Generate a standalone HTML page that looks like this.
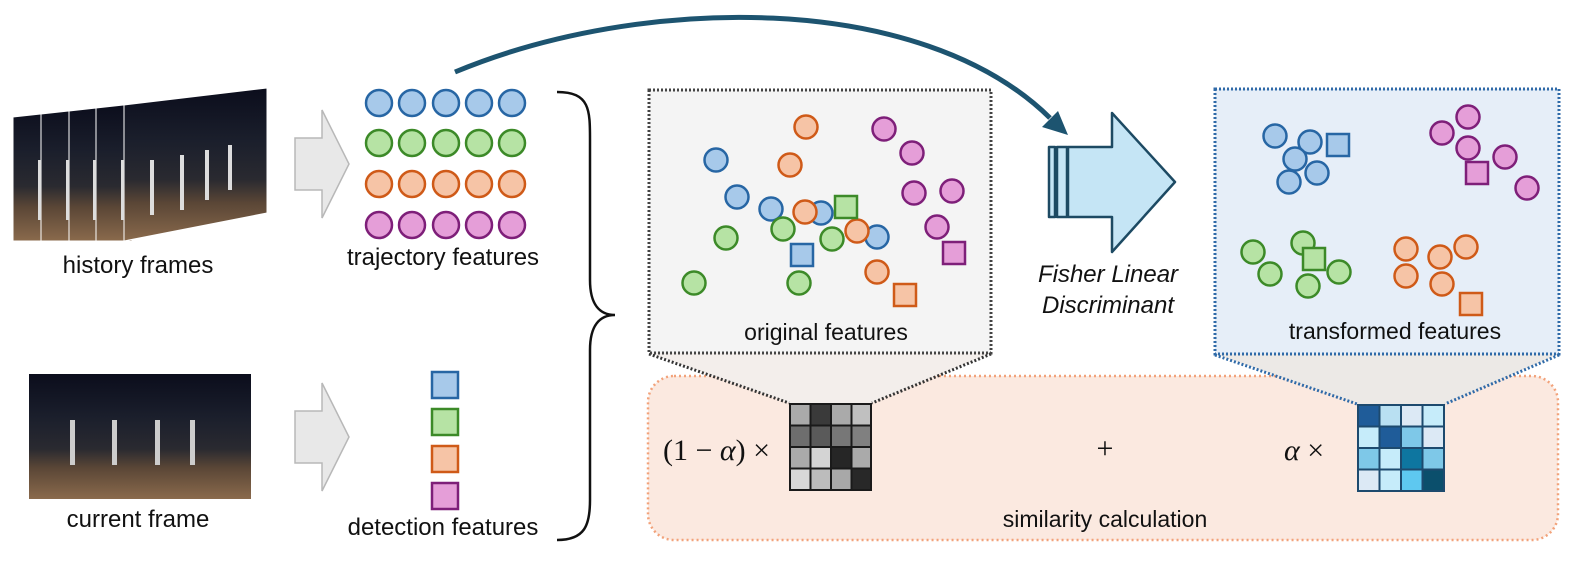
<!DOCTYPE html>
<html><head><meta charset="utf-8"><style>
html,body{margin:0;padding:0;background:#fff;}
svg{display:block;}
text{font-family:"Liberation Sans","DejaVu Sans",sans-serif;fill:#111;}
</style></head><body>
<svg width="1578" height="567" viewBox="0 0 1578 567" xmlns="http://www.w3.org/2000/svg">
<defs>
<linearGradient id="fr" x1="0" y1="0" x2="0" y2="1">
<stop offset="0" stop-color="#0b0d1c"/><stop offset="0.35" stop-color="#1b1f2c"/><stop offset="0.6" stop-color="#2a2a30"/><stop offset="0.75" stop-color="#5a4636"/><stop offset="1" stop-color="#8a6a4c"/>
</linearGradient>
</defs>
<!-- history frames -->
<g stroke="#fff" stroke-width="1">
<polygon points="13,117 132,104 132,241 13,241" fill="url(#fr)"/>
<polygon points="41,114 132,104 132,241 41,241" fill="url(#fr)"/>
<polygon points="69,111 132,104 132,241 69,241" fill="url(#fr)"/>
<polygon points="96,108 132,104 132,241 96,241" fill="url(#fr)"/>
<polygon points="124,105 267,88 267,213 124,241" fill="url(#fr)"/>
</g>
<g fill="#ddd"><rect x="38" y="160" width="3" height="60"/><rect x="66" y="160" width="3" height="60"/><rect x="93" y="160" width="3" height="60"/><rect x="121" y="160" width="3" height="60"/><rect x="150" y="160" width="4" height="55"/><rect x="180" y="155" width="4" height="55"/><rect x="205" y="150" width="4" height="50"/><rect x="228" y="145" width="4" height="45"/></g>
<text x="138" y="273" font-size="24" text-anchor="middle">history frames</text>
<!-- current frame -->
<rect x="29" y="374" width="222" height="125" fill="url(#fr)"/>
<g fill="#ccc"><rect x="70" y="420" width="5" height="45"/><rect x="112" y="420" width="5" height="45"/><rect x="155" y="420" width="5" height="45"/><rect x="190" y="420" width="5" height="45"/></g>
<text x="138" y="527" font-size="24" text-anchor="middle">current frame</text>
<!-- gray arrows -->
<polygon points="295,138 322,138 322,110 349,164 322,218 322,190 295,190" fill="#e8e8e8" stroke="#b8b8b8" stroke-width="1.5"/>
<polygon points="295,411 322,411 322,383 349,437 322,491 322,463 295,463" fill="#e8e8e8" stroke="#b8b8b8" stroke-width="1.5"/>
<!-- trajectory features -->
<g stroke-width="2.5">
<g fill="#a7c9ea" stroke="#2766a4"><circle cx="379" cy="103" r="13"/><circle cx="412" cy="103" r="13"/><circle cx="446" cy="103" r="13"/><circle cx="479" cy="103" r="13"/><circle cx="512" cy="103" r="13"/></g>
<g fill="#b6e3a4" stroke="#3c8a28"><circle cx="379" cy="143" r="13"/><circle cx="412" cy="143" r="13"/><circle cx="446" cy="143" r="13"/><circle cx="479" cy="143" r="13"/><circle cx="512" cy="143" r="13"/></g>
<g fill="#f6c4a6" stroke="#cf5a18"><circle cx="379" cy="184" r="13"/><circle cx="412" cy="184" r="13"/><circle cx="446" cy="184" r="13"/><circle cx="479" cy="184" r="13"/><circle cx="512" cy="184" r="13"/></g>
<g fill="#e59ed8" stroke="#7e1f79"><circle cx="379" cy="225" r="13"/><circle cx="412" cy="225" r="13"/><circle cx="446" cy="225" r="13"/><circle cx="479" cy="225" r="13"/><circle cx="512" cy="225" r="13"/></g>
<rect x="432" y="372" width="26" height="26" fill="#a7c9ea" stroke="#2766a4"/>
<rect x="432" y="409" width="26" height="26" fill="#b6e3a4" stroke="#3c8a28"/>
<rect x="432" y="446" width="26" height="26" fill="#f6c4a6" stroke="#cf5a18"/>
<rect x="432" y="483" width="26" height="26" fill="#e59ed8" stroke="#7e1f79"/>
</g>
<text x="443" y="265" font-size="24" text-anchor="middle">trajectory features</text>
<text x="443" y="535" font-size="24" text-anchor="middle">detection features</text>
<!-- brace -->
<path d="M557,92 C590,92 590,110 590,140 L590,280 C590,305 600,315 615,315 C600,315 590,325 590,350 L590,500 C590,525 585,540 557,540" fill="none" stroke="#111" stroke-width="2.5"/>
<!-- similarity box -->
<rect x="648" y="376" width="910" height="164" rx="26" fill="#fbe9e0" stroke="#f2a27a" stroke-width="2.5" stroke-dasharray="2 3"/>
<!-- connectors -->
<polygon points="649,353 991,353 872,403 789,403" fill="#f3eeeb"/>
<line x1="649" y1="354" x2="789" y2="403" stroke="#333" stroke-width="3" stroke-dasharray="2 2"/>
<line x1="991" y1="354" x2="872" y2="403" stroke="#333" stroke-width="3" stroke-dasharray="2 2"/>
<polygon points="1215,354 1559,354 1445,404 1357,404" fill="#ece9e6"/>
<line x1="1215" y1="355" x2="1357" y2="404" stroke="#2f6aa8" stroke-width="3" stroke-dasharray="2 2"/>
<line x1="1559" y1="355" x2="1445" y2="404" stroke="#2f6aa8" stroke-width="3" stroke-dasharray="2 2"/>
<!-- original features box -->
<rect x="649" y="90" width="342" height="263" fill="#f4f4f4" stroke="#444" stroke-width="3" stroke-dasharray="2 2"/>
<g stroke-width="2.5">
<g fill="#a7c9ea" stroke="#2766a4"><circle cx="716" cy="160" r="11.5"/><circle cx="737" cy="197" r="11.5"/><circle cx="771" cy="209" r="11.5"/><circle cx="821" cy="213" r="11.5"/><circle cx="877" cy="237" r="11.5"/></g>
<g fill="#b6e3a4" stroke="#3c8a28"><circle cx="726" cy="238" r="11.5"/><circle cx="783" cy="229" r="11.5"/><circle cx="832" cy="239" r="11.5"/><circle cx="694" cy="283" r="11.5"/><circle cx="799" cy="283" r="11.5"/></g>
<g fill="#f6c4a6" stroke="#cf5a18"><circle cx="806" cy="127" r="11.5"/><circle cx="790" cy="165" r="11.5"/><circle cx="805" cy="212" r="11.5"/><circle cx="857" cy="231" r="11.5"/><circle cx="877" cy="272" r="11.5"/></g>
<g fill="#e59ed8" stroke="#7e1f79"><circle cx="884" cy="129" r="11.5"/><circle cx="912" cy="153" r="11.5"/><circle cx="914" cy="193" r="11.5"/><circle cx="952" cy="191" r="11.5"/><circle cx="937" cy="227" r="11.5"/></g>
<rect x="835" y="196" width="22" height="22" fill="#b6e3a4" stroke="#3c8a28"/>
<rect x="791" y="244" width="22" height="22" fill="#a7c9ea" stroke="#2766a4"/>
<rect x="943" y="242" width="22" height="22" fill="#e59ed8" stroke="#7e1f79"/>
<rect x="894" y="284" width="22" height="22" fill="#f6c4a6" stroke="#cf5a18"/>
</g>
<text x="826" y="340" font-size="23" text-anchor="middle">original features</text>
<!-- transformed box -->
<rect x="1215" y="89" width="344" height="265" fill="#e6eef8" stroke="#2f6aa8" stroke-width="3" stroke-dasharray="2 2"/>
<g stroke-width="2.5">
<g fill="#a7c9ea" stroke="#2766a4"><circle cx="1275" cy="136" r="11.5"/><circle cx="1310" cy="142" r="11.5"/><circle cx="1295" cy="159" r="11.5"/><circle cx="1317" cy="173" r="11.5"/><circle cx="1289" cy="182" r="11.5"/></g>
<rect x="1327" y="134" width="22" height="22" fill="#a7c9ea" stroke="#2766a4"/>
<g fill="#e59ed8" stroke="#7e1f79"><circle cx="1468" cy="117" r="11.5"/><circle cx="1442" cy="133" r="11.5"/><circle cx="1468" cy="148" r="11.5"/><circle cx="1505" cy="157" r="11.5"/><circle cx="1527" cy="188" r="11.5"/></g>
<rect x="1466" y="162" width="22" height="22" fill="#e59ed8" stroke="#7e1f79"/>
<g fill="#b6e3a4" stroke="#3c8a28"><circle cx="1253" cy="252" r="11.5"/><circle cx="1303" cy="243" r="11.5"/><circle cx="1270" cy="274" r="11.5"/><circle cx="1308" cy="286" r="11.5"/><circle cx="1339" cy="272" r="11.5"/></g>
<rect x="1303" y="248" width="22" height="22" fill="#b6e3a4" stroke="#3c8a28"/>
<g fill="#f6c4a6" stroke="#cf5a18"><circle cx="1406" cy="249" r="11.5"/><circle cx="1440" cy="257" r="11.5"/><circle cx="1466" cy="247" r="11.5"/><circle cx="1406" cy="276" r="11.5"/><circle cx="1442" cy="284" r="11.5"/></g>
<rect x="1460" y="293" width="22" height="22" fill="#f6c4a6" stroke="#cf5a18"/>
</g>
<text x="1395" y="339" font-size="23" text-anchor="middle">transformed features</text>
<!-- gray matrix -->
<rect x="789" y="403" width="83" height="88" fill="#1a1a1a"/>
<g>
<rect x="791" y="405" width="18.5" height="19.5" fill="#aaa"/><rect x="811.5" y="405" width="18.5" height="19.5" fill="#3a3a3a"/><rect x="832" y="405" width="18.5" height="19.5" fill="#aaa"/><rect x="852.5" y="405" width="17.5" height="19.5" fill="#c0c0c0"/>
<rect x="791" y="426.5" width="18.5" height="19.5" fill="#6e6e6e"/><rect x="811.5" y="426.5" width="18.5" height="19.5" fill="#5a5a5a"/><rect x="832" y="426.5" width="18.5" height="19.5" fill="#777"/><rect x="852.5" y="426.5" width="17.5" height="19.5" fill="#808080"/>
<rect x="791" y="448" width="18.5" height="19.5" fill="#aaa"/><rect x="811.5" y="448" width="18.5" height="19.5" fill="#d4d4d4"/><rect x="832" y="448" width="18.5" height="19.5" fill="#262626"/><rect x="852.5" y="448" width="17.5" height="19.5" fill="#aaa"/>
<rect x="791" y="469.5" width="18.5" height="19.5" fill="#d8d8d8"/><rect x="811.5" y="469.5" width="18.5" height="19.5" fill="#bcbcbc"/><rect x="832" y="469.5" width="18.5" height="19.5" fill="#a8a8a8"/><rect x="852.5" y="469.5" width="17.5" height="19.5" fill="#282828"/>
</g>
<!-- blue matrix -->
<rect x="1357" y="404" width="88" height="88" fill="#1d4a6e"/>
<g>
<rect x="1359" y="406" width="19.5" height="19.5" fill="#1f5c99"/><rect x="1380.5" y="406" width="19.5" height="19.5" fill="#b9e0f2"/><rect x="1402" y="406" width="19.5" height="19.5" fill="#dce9f5"/><rect x="1423.5" y="406" width="19.5" height="19.5" fill="#c6ecfa"/>
<rect x="1359" y="427.5" width="19.5" height="19.5" fill="#c6ecfa"/><rect x="1380.5" y="427.5" width="19.5" height="19.5" fill="#1f5c99"/><rect x="1402" y="427.5" width="19.5" height="19.5" fill="#7ec8e8"/><rect x="1423.5" y="427.5" width="19.5" height="19.5" fill="#dce9f5"/>
<rect x="1359" y="449" width="19.5" height="19.5" fill="#7ec8e8"/><rect x="1380.5" y="449" width="19.5" height="19.5" fill="#c6ecfa"/><rect x="1402" y="449" width="19.5" height="19.5" fill="#0e76a0"/><rect x="1423.5" y="449" width="19.5" height="19.5" fill="#7ec8e8"/>
<rect x="1359" y="470.5" width="19.5" height="19.5" fill="#dce9f5"/><rect x="1380.5" y="470.5" width="19.5" height="19.5" fill="#c6ecfa"/><rect x="1402" y="470.5" width="19.5" height="19.5" fill="#5ec8f0"/><rect x="1423.5" y="470.5" width="19.5" height="19.5" fill="#0b4f6c"/>
</g>
<text x="663" y="460" font-size="30" style="font-family:'Liberation Serif',serif">(1 − <tspan font-style="italic">α</tspan>) ×</text>
<text x="1105" y="458" font-size="30" text-anchor="middle" style="font-family:'Liberation Serif',serif">+</text>
<text x="1284" y="460" font-size="30" style="font-family:'Liberation Serif',serif"><tspan font-style="italic">α</tspan> ×</text>
<text x="1105" y="527" font-size="23" text-anchor="middle">similarity calculation</text>
<!-- curved arrow -->
<path d="M455,72 C640,-5 920,-10 1050,118" fill="none" stroke="#1d5470" stroke-width="5"/>
<polygon points="1068,135 1042,127 1058,111" fill="#1d5470"/>
<!-- FLD arrow -->
<g stroke="#1d4a63" stroke-width="2.5" fill="#c5e5f5" stroke-linejoin="round">
<rect x="1049" y="147" width="6" height="70"/>
<rect x="1057" y="147" width="10" height="70"/>
<polygon points="1068,147 1112,147 1112,113 1175,182 1112,252 1112,217 1068,217"/>
</g>
<text x="1108" y="282" font-size="24" font-style="italic" text-anchor="middle">Fisher Linear</text>
<text x="1108" y="313" font-size="24" font-style="italic" text-anchor="middle">Discriminant</text>
</svg>
</body></html>
